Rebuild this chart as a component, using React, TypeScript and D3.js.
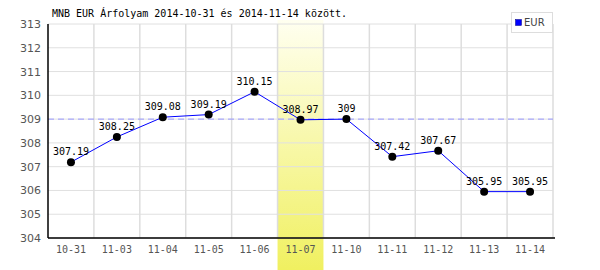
import React from "react";
import * as d3 from "d3";

const categories = ["10-31", "11-03", "11-04", "11-05", "11-06", "11-07", "11-10", "11-11", "11-12", "11-13", "11-14"];
const values = [307.19, 308.25, 309.08, 309.19, 310.15, 308.97, 309, 307.42, 307.67, 305.95, 305.95];
const labels = ["307.19", "308.25", "309.08", "309.19", "310.15", "308.97", "309", "307.42", "307.67", "305.95", "305.95"];
const yTicks = [304, 305, 306, 307, 308, 309, 310, 311, 312, 313];
const highlightCategory = "11-07";
const refValue = 309;
const title = "MNB EUR Árfolyam 2014-10-31 és 2014-11-14 között.";
const seriesName = "EUR";

export default function App() {
  const W = 600, H = 270;
  const left = 48, right = 553, top = 24, bottom = 238;
  const x = d3.scaleBand<string>().domain(categories).range([left, right]);
  const y = d3.scaleLinear().domain([304, 313]).range([bottom, top]);
  const line = d3.line<number>().x((_, i) => x(categories[i])! + x.bandwidth() / 2).y((d) => y(d));
  const hx = x(highlightCategory)!;
  const mono = "'DejaVu Sans Mono', monospace";
  const sans = "'DejaVu Sans', sans-serif";
  return (
    <svg width={W} height={H} style={{ position: "absolute", left: 0, top: 0, background: "#fff" }}>
      <defs>
        <linearGradient id="hl" x1="0" y1="0" x2="0" y2="1">
          <stop offset="0" stopColor="#fffff0" />
          <stop offset="1" stopColor="#f0f060" />
        </linearGradient>
      </defs>
      <rect x={hx} y={top - 4} width={x.bandwidth()} height={H - top + 4} fill="url(#hl)" />
      {yTicks.map((t) => (
        <line key={"h" + t} x1={left} x2={right} y1={y(t)} y2={y(t)} stroke="#e0e0e0" strokeWidth={1} />
      ))}
      {categories.map((c, i) => (
        <line key={"v" + c} x1={x(c)! + x.bandwidth()} x2={x(c)! + x.bandwidth()} y1={top} y2={bottom} stroke="#dddddd" strokeWidth={1.5} />
      ))}
      <line x1={left} x2={right} y1={y(refValue)} y2={y(refValue)} stroke="#9999ff" strokeWidth={1} strokeDasharray="6,4" />
      <line x1={left} x2={left} y1={top} y2={bottom} stroke="#000" strokeWidth={1.5} />
      <line x1={left} x2={right + 2} y1={bottom} y2={bottom} stroke="#000" strokeWidth={1.5} />
      {yTicks.map((t) => (
        <text key={"yt" + t} x={41} y={y(t) + 4} textAnchor="end" fontFamily={sans} fontSize={11} fill="#555">
          {t}
        </text>
      ))}
      {categories.map((c) => (
        <text key={"xt" + c} x={x(c)! + x.bandwidth() / 2} y={bottom + 15} textAnchor="middle" fontFamily={mono} fontSize={10} fill="#555">
          {c}
        </text>
      ))}
      <path d={line(values)!} fill="none" stroke="#0000ff" strokeWidth={1} />
      {values.map((v, i) => (
        <circle key={"p" + i} cx={x(categories[i])! + x.bandwidth() / 2} cy={y(v)} r={4} fill="#000" />
      ))}
      {values.map((v, i) => (
        <text key={"l" + i} x={x(categories[i])! + x.bandwidth() / 2} y={y(v) - 7} textAnchor="middle" fontFamily={mono} fontSize={10} fill="#000">
          {labels[i]}
        </text>
      ))}
      <text x={52} y={17} fontFamily={mono} fontSize={10} fill="#000">{title}</text>
      <rect x={511.5} y={12.5} width={41} height={20} fill="#fff" stroke="#dddddd" />
      <rect x={515.5} y={19.5} width={6} height={6} fill="#0000ff" stroke="#000080" strokeWidth={0.5} />
      <text x={524} y={26} fontFamily={sans} fontSize={10} fill="#444">{seriesName}</text>
    </svg>
  );
}
